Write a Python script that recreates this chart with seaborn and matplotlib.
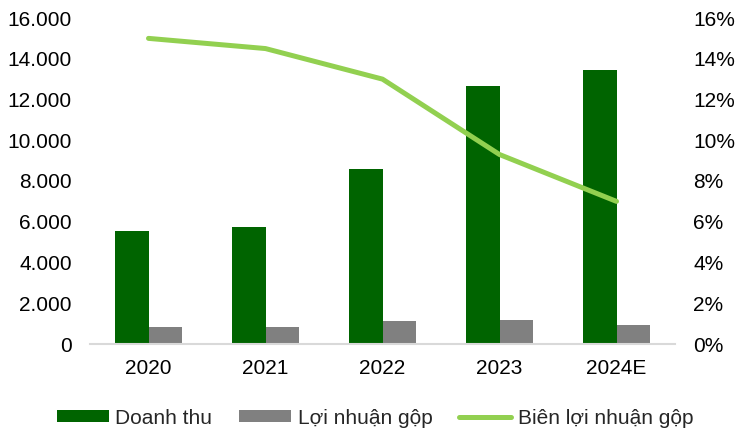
import matplotlib
matplotlib.use("Agg")
import matplotlib.pyplot as plt
import matplotlib.ticker as mticker
from matplotlib.patches import Patch
from matplotlib.lines import Line2D
import seaborn as sns
import pandas as pd

years = ["2020", "2021", "2022", "2023", "2024E"]
doanh_thu = [5530, 5730, 8600, 12650, 13450]
loi_nhuan_gop = [830, 830, 1130, 1190, 930]
bien_loi_nhuan = [15.0, 14.5, 13.0, 9.3, 7.0]

label_dt = "Doanh thu"
label_ln = "Lợi nhuận gộp"
label_bien = "Biên lợi nhuận gộp"

c_dt = "#006400"
c_ln = "#808080"
c_bien = "#92D050"

sns.set_theme(style="white")
plt.rcParams["font.family"] = ["Liberation Sans", "DejaVu Sans"]

df = pd.DataFrame({
    "year": years * 2,
    "value": doanh_thu + loi_nhuan_gop,
    "series": [label_dt] * len(years) + [label_ln] * len(years),
})

fig = plt.figure(figsize=(7.35, 4.33), dpi=100)
ax = fig.add_axes([90 / 735, 1 - 344 / 433, 585 / 735, 326 / 433])

sns.barplot(data=df, x="year", y="value", hue="series", order=years,
            hue_order=[label_dt, label_ln], palette=[c_dt, c_ln],
            width=0.58, linewidth=0, saturation=1, ax=ax, legend=False)

ax.set_xlim(-0.5, len(years) - 0.5)
ax.set_ylim(0, 16000)
ax.yaxis.set_major_locator(mticker.MultipleLocator(2000))
ax.yaxis.set_major_formatter(mticker.FuncFormatter(lambda v, p: f"{int(v):,}".replace(",", ".")))
ax.set_xlabel("")
ax.set_ylabel("")
for s in ["top", "left", "right"]:
    ax.spines[s].set_visible(False)
ax.spines["bottom"].set_color("#d9d9d9")
ax.spines["bottom"].set_linewidth(1.5)
ax.tick_params(axis="y", length=0, labelsize=15, pad=13, colors="#000000")
ax.tick_params(axis="x", length=0, labelsize=15, pad=11, colors="#000000")

ax2 = ax.twinx()
line_df = pd.DataFrame({"x": list(range(len(years))), "bien": bien_loi_nhuan})
sns.lineplot(data=line_df, x="x", y="bien", color=c_bien, linewidth=3.6,
             ax=ax2, legend=False)
ax2.lines[0].set_solid_capstyle("round")
ax2.set_ylim(0, 16)
ax2.set_xlim(-0.5, len(years) - 0.5)
ax2.yaxis.set_major_locator(mticker.MultipleLocator(2))
ax2.yaxis.set_major_formatter(mticker.FuncFormatter(lambda v, p: f"{int(round(v))}%"))
ax2.set_ylabel("")
ax2.set_xlabel("")
for s in ["top", "left", "right", "bottom"]:
    ax2.spines[s].set_visible(False)
ax2.tick_params(axis="y", length=0, labelsize=15, pad=13, colors="#000000")
ax2.grid(False)
ax.grid(False)

handles = [
    Patch(facecolor=c_dt, edgecolor="none", label=label_dt),
    Patch(facecolor=c_ln, edgecolor="none", label=label_ln),
    Line2D([0], [0], color=c_bien, linewidth=3.6, solid_capstyle="round", label=label_bien),
]
fig.legend(handles=handles, loc="center", bbox_to_anchor=(375 / 735, 1 - 418 / 433),
           ncol=3, frameon=False, fontsize=15, handlelength=2.5, handleheight=0.55,
           handletextpad=0.3, columnspacing=1.3, borderaxespad=0)

fig.savefig("out.png", dpi=100)
